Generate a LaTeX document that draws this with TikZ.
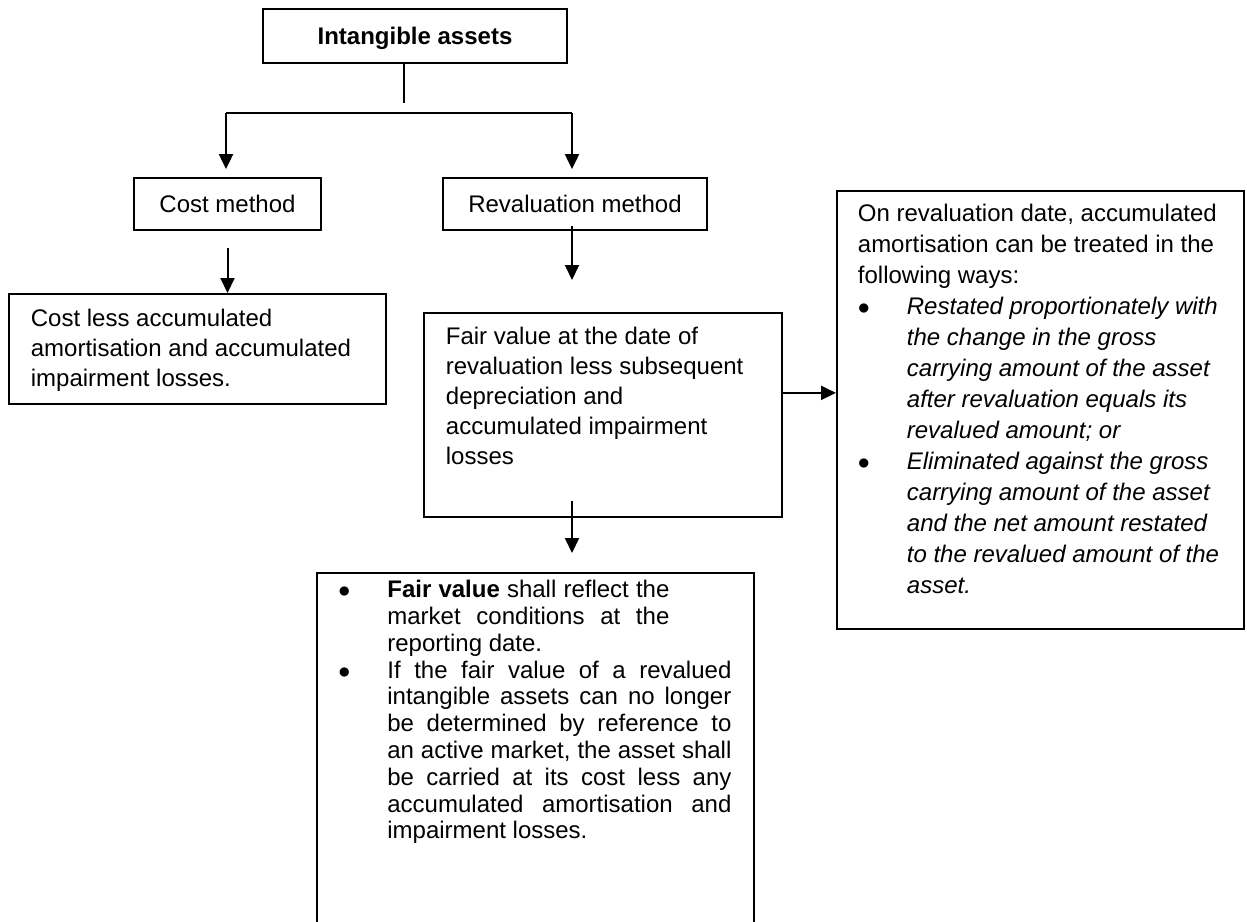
\documentclass[tikz,border=0pt]{standalone}
\usepackage{fontspec}
\setmainfont{Liberation Sans}
\usetikzlibrary{arrows.meta}
\newcommand{\bul}{\noindent\hangindent=24.5pt\hangafter=1\makebox[24.5pt][l]{$\bullet$}}
\newcommand{\jline}[2]{\makebox[#1][s]{#2}}

\begin{document}
\begin{tikzpicture}[x=0.5pt, y=-0.5pt]
        \tikzstyle{topbox}=[draw, line width=0.9pt, shape=rectangle, minimum width=152pt, minimum height=27pt, text depth=0pt, font=\fontsize{12}{15}\selectfont\bfseries];
        \tikzstyle{methodbox}=[draw, line width=0.9pt, shape=rectangle, minimum height=26pt, font=\fontsize{12}{15}\selectfont];
        \tikzstyle{textbox}=[draw, line width=0.9pt, shape=rectangle, anchor=north west, inner xsep=11pt, font=\fontsize{12}{15}\selectfont];
        \tikzstyle{myedge}=[line width=1pt, -{Triangle[length=7.5pt, width=7pt]}];
        \tikzstyle{branchline}=[line width=1pt];

        \useasboundingbox (0,0) rectangle (1247,921);

        % top box and split
        \node[topbox] (intang) at (415,36) {Intangible assets};
        \coordinate (stem) at (404,103);
        \coordinate (bl) at (226,113);
        \coordinate (br) at (572,113);
        \draw[line width=0.7pt] (intang.south -| stem) -- (stem);
        \draw[branchline] (bl) -- (br);

        % methods
        \node[methodbox, minimum width=93.5pt] (cost) at (227.5,204) {Cost method};
        \node[methodbox, minimum width=132pt] (reval) at (575,204) {Revaluation method};
        \draw[myedge, shorten >=4pt] (bl) -- (bl |- cost.north);
        \draw[myedge, shorten >=4pt] (br) -- (br |- reval.north);

        % cost branch
        \node[textbox, inner ysep=7.5pt] (costres) at (8,293) {\parbox[c][40pt][t]{166.5pt}{\raggedright
          Cost less accumulated\\ amortisation and accumulated\\ impairment losses.}};
        \draw[myedge, shorten <=8.5pt] (cost.south) -- (cost.south |- costres.north);

        % revaluation branch
        \node[textbox, inner ysep=7pt] (fairval) at (423,312) {\parbox[c][88pt][t]{157pt}{\raggedright
          Fair value at the date of\\ revaluation less subsequent\\ depreciation and\\ accumulated impairment\\ losses}};
        \draw[myedge, shorten <=-2.5pt, shorten >=16pt] (br |- reval.south) -- (br |- fairval.north);

        % accumulated amortisation
        \node[textbox, inner xsep=10.5pt, inner ysep=6.5pt, font=\fontsize{12}{15.5}\selectfont] (ways) at (836,190) {\parbox[c][206pt][t]{182.5pt}{\raggedright
          On revaluation date, accumulated\\ amortisation can be treated in the\\ following ways:\par
          \bul\textit{Restated proportionately with\newline the change in the gross\newline carrying amount of the asset\newline after revaluation equals its\newline revalued amount; or}\par
          \bul\textit{Eliminated against the gross\newline carrying amount of the asset\newline and the net amount restated\newline to the revalued amount of the\newline asset.}\par}};
        \draw[myedge] ([yshift=11pt]fairval.east) -- ([yshift=11pt]fairval.east -| ways.west);

        % fair value note (box open at the bottom)
        \node[anchor=north west, inner xsep=10.5pt, inner ysep=3.5pt, font=\fontsize{12}{13.4}\selectfont] (fvnote) at (317,573) {\parbox[t]{197pt}{\raggedright
          \bul\jline{141pt}{\textbf{Fair value} shall reflect the}\newline \jline{141pt}{market conditions at the}\newline reporting date.\par
          \bul\jline{172pt}{If the fair value of a revalued}\newline \jline{172pt}{intangible assets can no longer}\newline \jline{172pt}{be determined by reference to}\newline \jline{172pt}{an active market, the asset shall}\newline \jline{172pt}{be carried at its cost less any}\newline \jline{172pt}{accumulated amortisation and}\newline impairment losses.\par}};
        \coordinate (pagebot) at (0,925);
        \draw[line width=0.9pt] (fvnote.north west |- pagebot) -- (fvnote.north west) -- (fvnote.north east) -- (fvnote.north east |- pagebot);
        \draw[myedge, shorten <=-8.5pt, shorten >=10pt] (br |- fairval.south) -- (br |- fvnote.north);
\end{tikzpicture}
\end{document}
